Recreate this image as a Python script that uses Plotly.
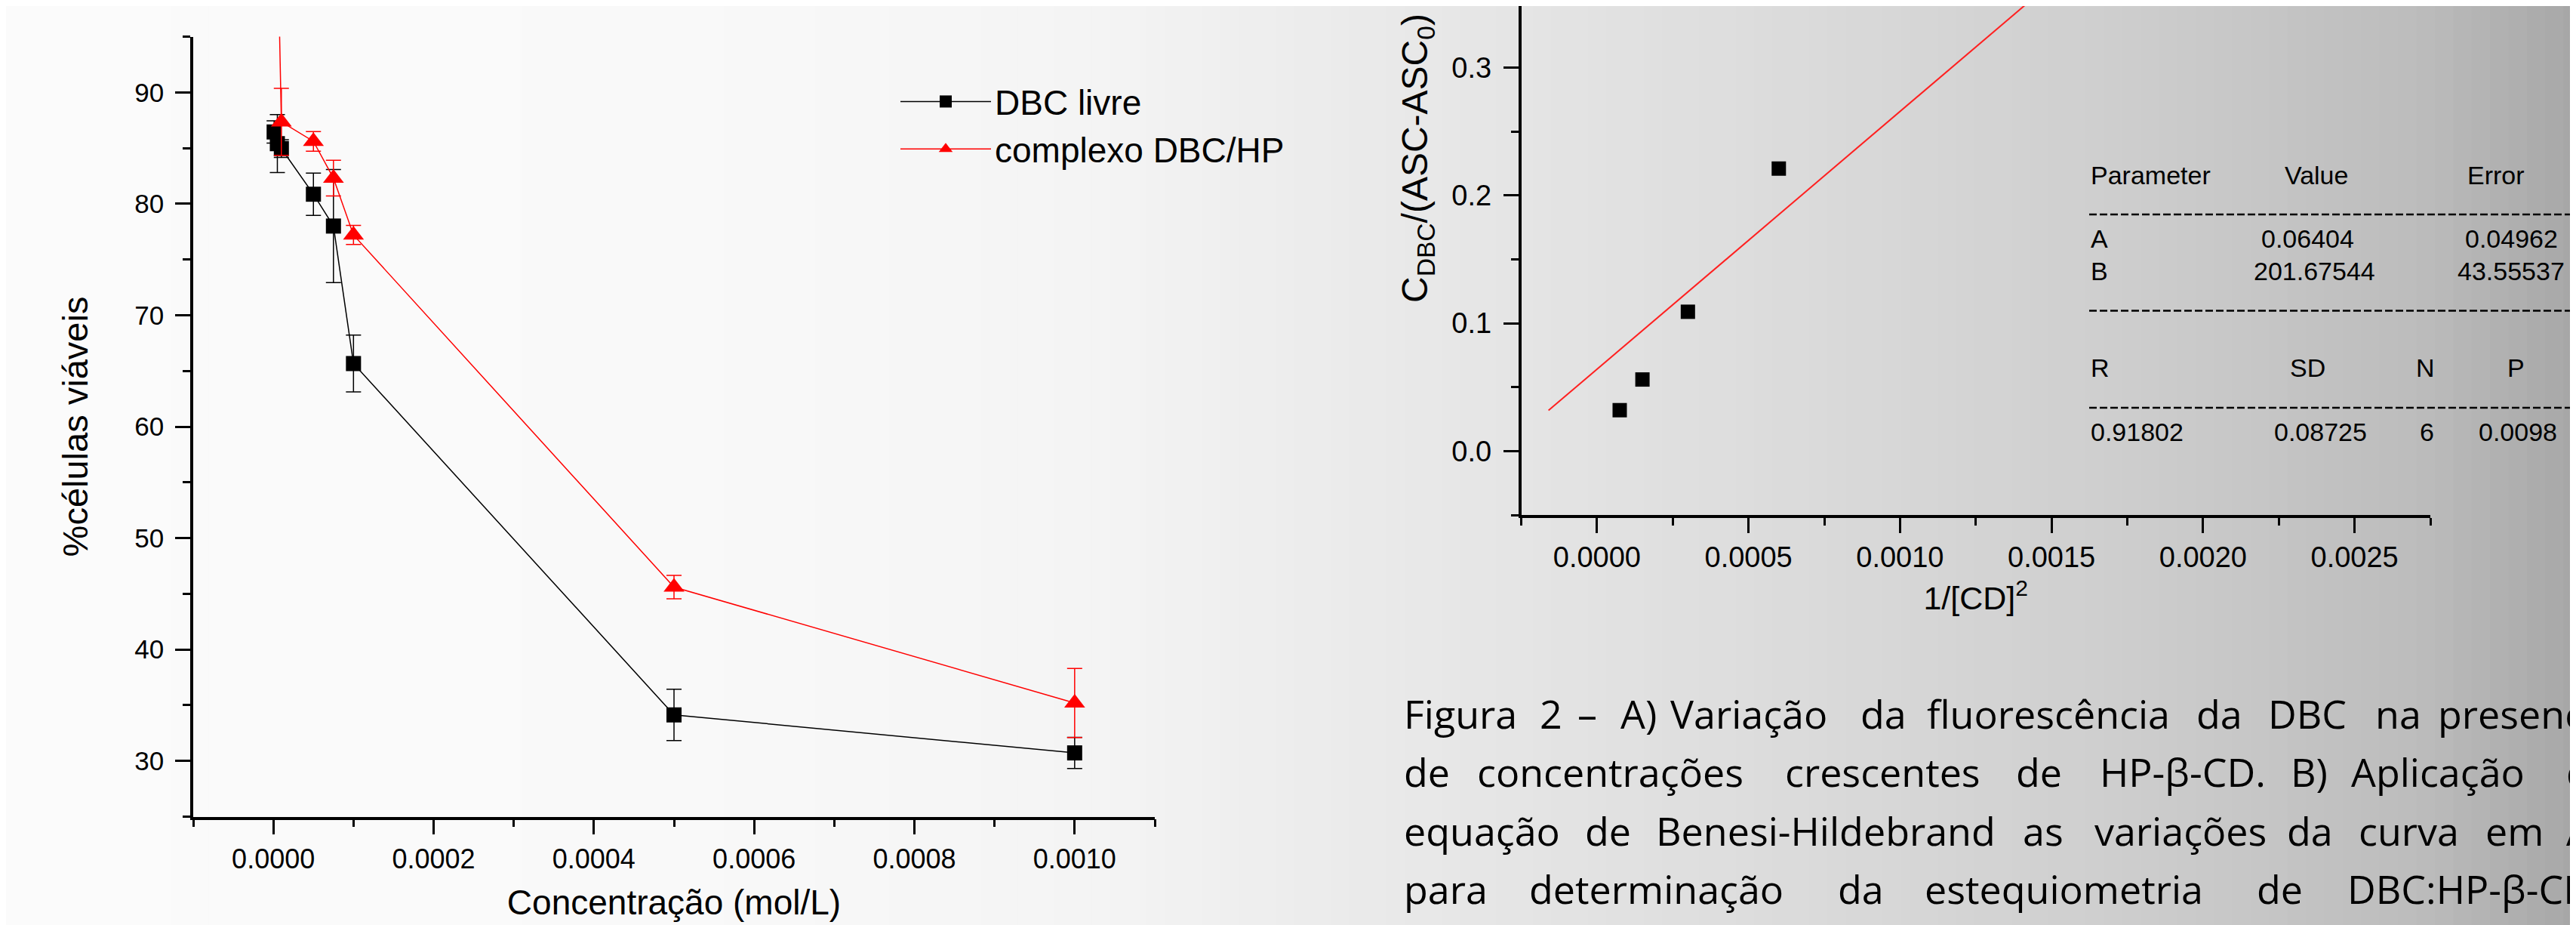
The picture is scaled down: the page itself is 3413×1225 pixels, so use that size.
import plotly.graph_objects as go

W, H = 3413, 1225

# ---------------- Panel A: cell viability ----------------
conc_livre = [0.000001, 0.000005, 0.00001, 0.00005, 0.000075, 0.0001, 0.0005, 0.001]
dbc_livre = [86.45, 85.4, 84.95, 80.86, 78.0, 65.66, 34.13, 30.72]
dbc_livre_err = [1.0, 2.6, 0.8, 1.9, 5.07, 2.55, 2.3, 1.4]

conc_complexo = [0.000005, 0.00001, 0.00005, 0.000075, 0.0001, 0.0005, 0.001]
complexo_hp = [105.0, 87.35, 85.6, 82.3, 77.2, 45.6, 35.2]
complexo_hp_err = [3.0, 3.0, 0.88, 1.6, 0.86, 1.05, 3.1]

# ---------------- Panel B: Benesi-Hildebrand ----------------
inv_cd2 = [0.000075, 0.00015, 0.0003, 0.0006]
ratio = [0.032, 0.056, 0.109, 0.221]
fit_A = 0.06404
fit_B = 201.67544
fit_x = [-0.00016, 0.0015]

table_header = ["Parameter", "Value", "Error"]
param_names = ["A", "B"]
param_values = ["0.06404", "201.67544"]
param_errors = ["0.04962", "43.55537"]
stat_names = ["R", "SD", "N", "P"]
stat_values = ["0.91802", "0.08725", "6", "0.0098"]

caption_lines = [
    ["Figura", "2", "–", "A)", "Variação", "da", "fluorescência", "da", "DBC", "na", "presença"],
    ["de", "concentrações", "crescentes", "de", "HP-β-CD.", "B)", "Aplicação", "da"],
    ["equação", "de", "Benesi-Hildebrand", "as", "variações", "da", "curva", "em", "A)"],
    ["para", "determinação", "da", "estequiometria", "de", "DBC:HP-β-CD"],
    ["(1:1)."],
]
# layout (pixel) positions of the justified caption words
caption_word_x = [
    [1850, 2030, 2080, 2137, 2203, 2455, 2543, 2900, 2995, 3137, 3220],
    [1850, 1947, 2355, 2661, 2772, 3025, 3105, 3390],
    [1850, 2090, 2184, 2670, 2765, 3020, 3115, 3283, 3390],
    [1850, 2016, 2425, 2540, 2980, 3100],
    [1850],
]
caption_baselines = [957, 1034, 1112, 1189, 1262]

FONT = "Arial, 'Liberation Sans', sans-serif"
CAPTION_FONT = "'Open Sans', Lato, sans-serif"


def px(x):
    return x / W


def py(y):
    return 1 - y / H


fig = go.Figure()

fig.add_trace(go.Scatter(
    x=conc_livre, y=dbc_livre, name="DBC livre", mode="lines+markers",
    line=dict(color="black", width=1.5),
    marker=dict(symbol="square", size=20, color="black"),
    error_y=dict(type="data", array=dbc_livre_err, color="black", thickness=1.5, width=10),
    xaxis="x", yaxis="y"))

fig.add_trace(go.Scatter(
    x=conc_complexo, y=complexo_hp, name="complexo DBC/HP", mode="lines+markers",
    line=dict(color="#ff0000", width=1.5),
    marker=dict(symbol="triangle-up", size=24, color="#ff0000"),
    error_y=dict(type="data", array=complexo_hp_err, color="#ff0000", thickness=1.5, width=10),
    xaxis="x", yaxis="y"))

fig.add_trace(go.Scatter(
    x=inv_cd2, y=ratio, mode="markers", showlegend=False,
    marker=dict(symbol="square", size=19, color="black"),
    xaxis="x2", yaxis="y2"))

fig.add_trace(go.Scatter(
    x=fit_x, y=[fit_A + fit_B * v for v in fit_x], mode="lines", showlegend=False,
    line=dict(color="#ff2020", width=2),
    xaxis="x2", yaxis="y2"))

axis_common = dict(
    showline=True, linecolor="black", linewidth=3.5, mirror=False,
    ticks="outside", ticklen=20, tickwidth=3, tickcolor="black",
    showgrid=False, zeroline=False, color="black",
)

fig.update_layout(
    width=W, height=H,
    margin=dict(l=0, r=0, t=0, b=0),
    paper_bgcolor="#f8f8f8", plot_bgcolor="rgba(0,0,0,0)",
    font=dict(family=FONT, color="black"),
    xaxis=dict(
        domain=[px(248), px(1522)], range=[-0.0001, 0.0011], anchor="y",
        tick0=0, dtick=0.0002, tickformat=".4f", tickfont=dict(size=36),
        minor=dict(dtick=0.0001, ticklen=10, tickwidth=3, tickcolor="black", ticks="outside"),
        title=dict(text="Concentração (mol/L)", font=dict(size=46), standoff=22),
        ticklabelstandoff=2,
        **axis_common),
    yaxis=dict(
        domain=[py(1073.5), py(40.5)], range=[25, 95], anchor="x",
        tick0=0, dtick=10, tickfont=dict(size=35),
        minor=dict(dtick=5, ticklen=10, tickwidth=3, tickcolor="black", ticks="outside"),
        title=dict(text="%células viáveis", font=dict(size=47), standoff=48),
        ticklabelstandoff=8,
        **axis_common),
    xaxis2=dict(
        domain=[px(2007.5), px(3212)], range=[-0.00025, 0.00275], anchor="y2",
        tick0=0, dtick=0.0005, tickformat=".4f", tickfont=dict(size=38),
        minor=dict(dtick=0.00025, ticklen=10, tickwidth=3, tickcolor="black", ticks="outside"),
        title=dict(text="1/[CD]<sup>2</sup>", font=dict(size=43), standoff=20),
        ticklabelstandoff=0,
        **axis_common),
    yaxis2=dict(
        domain=[py(674), 1.0], range=[-0.05, 0.3482], anchor="x2",
        tick0=0, dtick=0.1, tickformat=".1f", tickfont=dict(size=38),
        minor=dict(dtick=0.05, ticklen=10, tickwidth=3, tickcolor="black", ticks="outside"),
        ticklabelstandoff=8,
        **axis_common),
    legend=dict(
        x=px(1180), y=py(90), xanchor="left", yanchor="top",
        font=dict(size=46, family=FONT), bgcolor="rgba(0,0,0,0)",
        itemwidth=120, tracegroupgap=0,
    ),
)

# ---------------- background gradient (decoration) ----------------
stops = [(0, 251), (900, 249), (1450, 244), (1800, 234), (2300, 221),
         (2800, 206), (3200, 188), (3413, 166)]


def grey_at(x):
    for (xa, ga), (xb, gb) in zip(stops[:-1], stops[1:]):
        if xa <= x <= xb:
            t = (x - xa) / (xb - xa)
            return ga + t * (gb - ga)
    return stops[-1][1]


shapes = []
N = 140
for i in range(N):
    x0 = i * W / N
    x1 = (i + 1) * W / N
    g = int(round(grey_at((x0 + x1) / 2)))
    shapes.append(dict(type="rect", xref="paper", yref="paper",
                       x0=px(x0), x1=px(x1) + 0.0005, y0=0, y1=1,
                       fillcolor=f"rgb({g},{g},{g})", line=dict(width=0), layer="below"))

# dashed separators of the fit table
for yy in [276, 403.5, 532]:
    shapes.append(dict(type="line", xref="paper", yref="paper",
                       x0=px(2760), x1=1.0, y0=py(yy), y1=py(yy),
                       line=dict(color="black", width=2.5, dash="10px,4px")))

annotations = []


def add_text(text, x, baseline, size, family, shift, angle=0, xanchor="left"):
    annotations.append(dict(
        text=text, xref="paper", yref="paper", x=px(x), y=py(baseline - shift),
        xanchor=xanchor, yanchor="middle", showarrow=False, textangle=angle,
        font=dict(size=size, family=family, color="black")))


# y-axis title of panel B (placed as in the reference, partly above the crop)
add_text("C<sub>DBC</sub>/(ASC-ASC<sub>0</sub>)", 1870, 202, 48, FONT, 0, angle=-90, xanchor="center")

TS = 34
tsh = 0.35 * TS + 7
for t, x in zip(table_header, [2760, 3017, 3259]):
    add_text(t, x, 243, TS, FONT, tsh)
add_text(param_names[0], 2760, 327, TS, FONT, tsh)
add_text(param_values[0], 2986, 327, TS, FONT, tsh)
add_text(param_errors[0], 3256, 327, TS, FONT, tsh)
add_text(param_names[1], 2760, 370, TS, FONT, tsh)
add_text(param_values[1], 2976, 370, TS, FONT, tsh)
add_text(param_errors[1], 3246, 370, TS, FONT, tsh)
for t, x in zip(stat_names, [2760, 3024, 3191, 3312]):
    add_text(t, x, 498, TS, FONT, tsh)
for t, x in zip(stat_values, [2760, 3003, 3196, 3274]):
    add_text(t, x, 583, TS, FONT, tsh)

CS = 52
for words, xs, base in zip(caption_lines, caption_word_x, caption_baselines):
    for w, x in zip(words, xs):
        add_text(w, x, base, CS, CAPTION_FONT, 0.40 * CS)

fig.update_layout(shapes=shapes, annotations=annotations)

fig.write_html("out.html")
